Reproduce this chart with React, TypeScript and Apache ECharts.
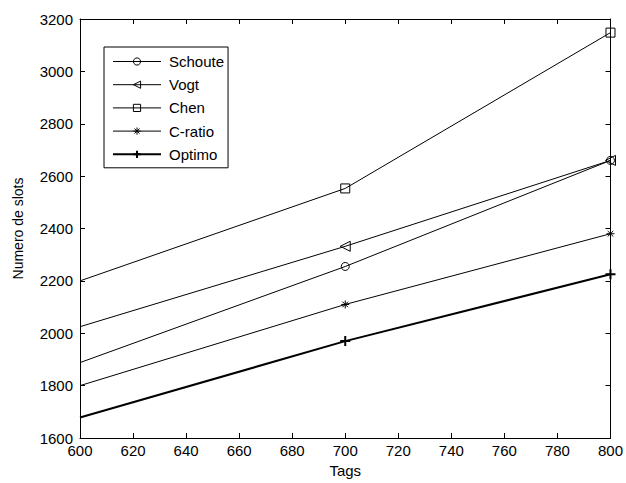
import React, { useEffect, useRef } from "react";
import * as echarts from "echarts";

const tags = [600, 700, 800];
const schoute = [1888, 2255, 2660];
const vogt = [2025, 2332, 2660];
const chen = [2200, 2553, 3148];
const cratio = [1800, 2110, 2380];
const optimo = [1678, 1970, 2225];

const xTicks = { min: 600, max: 800, interval: 20 };
const yTicks = { min: 1600, max: 3200, interval: 200 };

const FONT = "Liberation Sans";

const TRI_LEFT = "path://M0,5L9,0L9,10Z";
const ASTER = "path://M5,0L5,10M0,5L10,5M1.5,1.5L8.5,8.5M8.5,1.5L1.5,8.5";
const PLUS = "path://M5,0L5,10M0,5L10,5";

function pairs(vals: number[]) {
  // first point sits on the left axis and shows no marker in the reference
  return tags.map((t, i) => (i === 0 ? { value: [t, vals[i]], symbolSize: 0 } : { value: [t, vals[i]] }));
}

export default function App() {
  const ref = useRef<HTMLDivElement>(null);
  useEffect(() => {
    const chart = echarts.init(ref.current!, null, { renderer: "svg" });
    const mk = (name: string, vals: number[], symbol: string, size: number, width: number) => ({
      name,
      type: "line",
      data: pairs(vals),
      symbol,
      symbolSize: size,
      showAllSymbol: true,
      lineStyle: { color: "#000", width },
      itemStyle: { color: "none", borderColor: "#000", borderWidth: width === 2 ? 2 : 1 },
      emphasis: { disabled: true },
    });
    const lt = { fontFamily: FONT, fontSize: 15, color: "#000" };
    const li = (name: string, w: number) => ({
      name,
      lineStyle: { width: w, color: "#000" },
      itemStyle: { borderWidth: w, borderColor: "#000", color: "none" },
    });
    chart.setOption({
      animation: false,
      backgroundColor: "#fff",
      textStyle: { fontFamily: FONT },
      grid: { left: 80, right: 10, top: 19, bottom: 41, containLabel: false },
      legend: {
        orient: "vertical",
        left: 104,
        top: 47,
        padding: [7, 4, 6, 8],
        itemWidth: 48,
        itemHeight: 9,
        itemGap: 8.2,
        align: "left",
        borderColor: "#000",
        borderWidth: 1,
        borderRadius: 0,
        backgroundColor: "#fff",
        textStyle: { ...lt, padding: [0, 0, 0, 3] },
        data: [li("Schoute", 1), li("Vogt", 1), li("Chen", 1), li("C-ratio", 1), li("Optimo", 2)],
      },
      xAxis: [
        {
          type: "value",
          ...xTicks,
          name: "Tags",
          nameLocation: "middle",
          nameGap: 25,
          nameTextStyle: lt,
          axisLine: { show: true, lineStyle: { color: "#000", width: 1 } },
          axisTick: { inside: true, length: 5, lineStyle: { color: "#000" } },
          axisLabel: { ...lt, margin: 5, formatter: (v: number) => String(v) },
          splitLine: { show: false },
        },
        {
          type: "value",
          ...xTicks,
          position: "top",
          axisLine: { show: true, lineStyle: { color: "#000", width: 1 } },
          axisTick: { inside: true, length: 5, lineStyle: { color: "#000" } },
          axisLabel: { show: false },
          splitLine: { show: false },
        },
      ],
      yAxis: [
        {
          type: "value",
          ...yTicks,
          name: "Numero de slots",
          nameLocation: "middle",
          nameGap: 55,
          nameTextStyle: { ...lt, fontSize: 14 },
          axisLine: { show: true, lineStyle: { color: "#000", width: 1 } },
          axisTick: { inside: true, length: 5, lineStyle: { color: "#000" } },
          axisLabel: { ...lt, margin: 7, formatter: (v: number) => String(v) },
          splitLine: { show: false },
        },
        {
          type: "value",
          ...yTicks,
          position: "right",
          axisLine: { show: true, lineStyle: { color: "#000", width: 1 } },
          axisTick: { inside: true, length: 5, lineStyle: { color: "#000" } },
          axisLabel: { show: false },
          splitLine: { show: false },
        },
      ],
      series: [
        mk("Schoute", schoute, "circle", 8, 1),
        mk("Vogt", vogt, TRI_LEFT, 10, 1),
        mk("Chen", chen, "rect", 9, 1),
        mk("C-ratio", cratio, ASTER, 8, 1),
        mk("Optimo", optimo, PLUS, 10, 2),
      ],
    });
    return () => chart.dispose();
  }, []);
  return <div ref={ref} style={{ width: 626, height: 483, position: "absolute", left: 0, top: 0 }} />;
}
